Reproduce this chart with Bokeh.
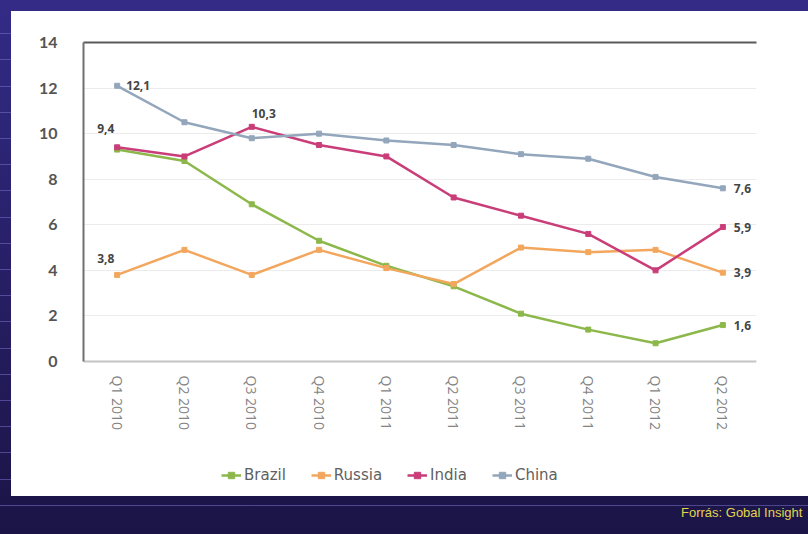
import math
from bokeh.plotting import figure
from bokeh.models import (ColumnDataSource, Legend, LegendItem, LinearAxis,
                          FixedTicker, Div, LabelSet)
from bokeh.core.properties import value
from bokeh.layouts import column
from bokeh.embed import file_html
from bokeh.resources import INLINE

# ---- data -----------------------------------------------------------
periods = ["Q1 2010", "Q2 2010", "Q3 2010", "Q4 2010",
           "Q1 2011", "Q2 2011", "Q3 2011", "Q4 2011",
           "Q1 2012", "Q2 2012"]
brazil = [9.3, 8.8, 6.9, 5.3, 4.2, 3.3, 2.1, 1.4, 0.8, 1.6]
russia = [3.8, 4.9, 3.8, 4.9, 4.1, 3.4, 5.0, 4.8, 4.9, 3.9]
india = [9.4, 9.0, 10.3, 9.5, 9.0, 7.2, 6.4, 5.6, 4.0, 5.9]
china = [12.1, 10.5, 9.8, 10.0, 9.7, 9.5, 9.1, 8.9, 8.1, 7.6]
y_ticks = [0, 2, 4, 6, 8, 10, 12, 14]
series_names = ["Brazil", "Russia", "India", "China"]
source_note = "Forrás: Gobal Insight"

# which points carry a value label: (series, index)
labelled = [("China", 0), ("India", 0), ("India", 2), ("Russia", 0),
            ("China", 9), ("India", 9), ("Russia", 9), ("Brazil", 9)]

# ---- styles ---------------------------------------------------------
colors = {"Brazil": "#8cb84b", "Russia": "#f3a75e",
          "India": "#c93d78", "China": "#93a6bb"}
label_offsets = {("China", 0): (9, 0), ("India", 0): (-20, 19),
                 ("India", 2): (0, 13), ("Russia", 0): (-20, 16),
                 ("China", 9): (11, 0), ("India", 9): (11, 0),
                 ("Russia", 9): (11, 0), ("Brazil", 9): (11, 0)}

values = {"Brazil": brazil, "Russia": russia, "India": india, "China": china}

# frame reaches down to the legend; the value axis stops at 0
Y_BOTTOM = -5.66

p = figure(width=797, height=485, x_range=periods, y_range=(Y_BOTTOM, 14),
           output_backend="svg", toolbar_location=None,
           min_border_left=72, min_border_right=52, min_border_top=31,
           min_border_bottom=6, background_fill_color="white",
           border_fill_color="white", outline_line_color=None,
           styles={"background-color": "white"})

# y axis
yax = p.yaxis[0]
yax.ticker = FixedTicker(ticks=y_ticks)
yax.bounds = (0, 14)
yax.major_label_text_font = "Lato"
yax.major_label_text_font_style = "bold"
yax.major_label_text_font_size = "16px"
yax.major_label_text_color = "#555555"
yax.major_tick_line_color = None
yax.minor_tick_line_color = None
yax.axis_line_color = "#707070"
yax.axis_line_width = 2
yax.major_label_standoff = 20

# x axis, pinned at y = 0
xax = p.xaxis[0]
xax.fixed_location = 0
xax.axis_line_color = "#c4c4c4"
xax.axis_line_width = 2
xax.major_tick_line_color = None
xax.major_tick_out = 0
xax.major_label_orientation = -math.pi / 2
xax.major_label_text_font = "Open Sans"
xax.major_label_text_font_size = "14px"
xax.major_label_text_color = "#848484"
xax.major_label_standoff = 14

# top border line
top = LinearAxis(ticker=FixedTicker(ticks=[]), axis_line_color="#5a5a5a",
                 axis_line_width=2, major_tick_line_color=None,
                 minor_tick_line_color=None, major_label_text_font_size="0px")
p.add_layout(top, "above")

p.xgrid.grid_line_color = None
p.ygrid.grid_line_color = "#ececec"
p.ygrid.ticker = FixedTicker(ticks=y_ticks)

items = []
for name in series_names:
    src = ColumnDataSource(dict(x=periods, y=values[name]))
    ln = p.line("x", "y", source=src, line_color=colors[name], line_width=2.5)
    mk = p.scatter("x", "y", source=src, marker="square", size=5,
                   fill_color=colors[name], line_color=colors[name])
    items.append(LegendItem(label=name, renderers=[ln, mk]))

# value labels
lx, ly, lt, ox, oy = [], [], [], [], []
for name, i in labelled:
    v = values[name][i]
    lx.append(periods[i])
    ly.append(v)
    lt.append(f"{v:.1f}".replace(".", ","))
    dx, dy = label_offsets[(name, i)]
    ox.append(dx)
    oy.append(dy)
lsrc = ColumnDataSource(dict(x=lx, y=ly, t=lt, ox=ox, oy=oy))
labels = LabelSet(x="x", y="y", text="t", source=lsrc, x_offset="ox",
                  y_offset="oy", text_font=value("Open Sans"),
                  text_font_style="bold", text_font_size="12px",
                  text_color="#454545", text_baseline="middle",
                  text_align="left")
p.add_layout(labels)

legend = Legend(items=items, orientation="horizontal", location=(138, 6),
                label_text_font="DejaVu Sans", label_text_font_size="15px",
                label_text_color="#606060", glyph_width=20, glyph_height=16,
                label_standoff=3, spacing=25, padding=4, margin=0,
                border_line_color=None, background_fill_alpha=0)
p.add_layout(legend, "center")

footer = Div(text=source_note, width=127, height=20, margin=(8, 0, 0, 681),
             styles={"color": "#e2d64c", "font-family": "Liberation Sans, Arial",
                     "font-size": "13px", "white-space": "nowrap",
                     "overflow": "hidden"})

p.margin = (11, 0, 0, 11)
page = column(p, footer, width=808, height=534, spacing=0,
              styles={"background":
                      "repeating-linear-gradient(to bottom, rgba(0,0,0,0) 0px, "
                      "rgba(0,0,0,0) 25.2px, rgba(120,110,200,0.55) 25.2px, "
                      "rgba(120,110,200,0.55) 26.2px) 0 8px / 100% 498px no-repeat, "
                      "linear-gradient(to bottom, #332b86 0%, #1b1446 100%)",
                      "overflow": "hidden"})

open("out.html", "w").write(file_html(page, INLINE))
